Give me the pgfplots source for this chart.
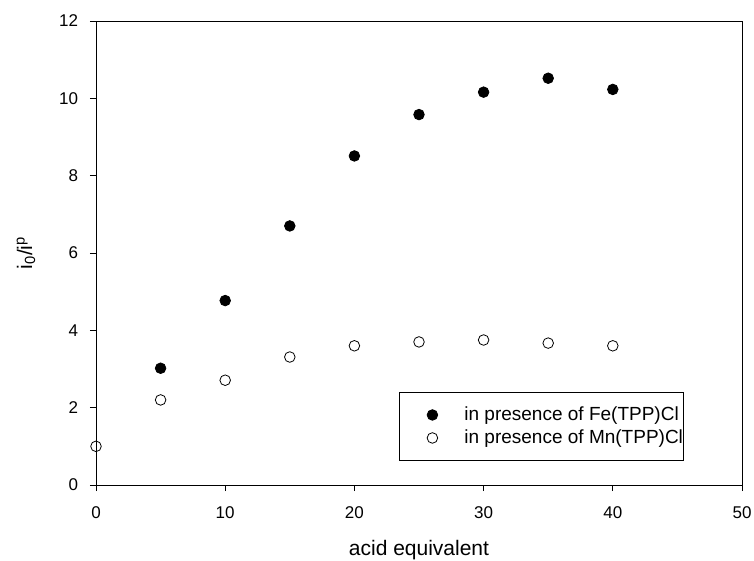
\documentclass[border=0pt]{standalone}
\usepackage{fontspec}
\setmainfont{Liberation Sans}
\usepackage{pgfplots}
\pgfplotsset{compat=1.18}
\begin{document}
\fontsize{17pt}{20pt}\selectfont
\begin{tikzpicture}
\begin{axis}[
  name=a,
  scale only axis,
  width=646pt, height=464pt,
  xmin=0, xmax=50, ymin=0, ymax=12,
  xtick={0,10,...,50}, ytick={0,2,...,12},
  xtick pos=bottom, ytick pos=left,
  tick align=outside, major tick length=6pt,
  tick style={black, line width=0.9pt},
  axis line style={line width=0.9pt},
  /pgf/number format/assume math mode=true,
  ticklabel style={font=\fontsize{17pt}{20pt}\selectfont},
  xticklabel style={yshift=-10pt},
  yticklabel style={xshift=-6pt},
  xlabel={acid equivalent},
  ylabel={i\textsubscript{0}/i\textsuperscript{p}},
  every axis x label/.style={at={(axis description cs:0.5,0)}, anchor=base, yshift=-70pt,
     font=\fontsize{21pt}{24pt}\selectfont},
  every axis y label/.style={at={(axis description cs:-0.1084,0.5)}, anchor=center, rotate=90,
     font=\fontsize{21pt}{24pt}\selectfont},
  legend style={at={(0.469,0.2004)}, anchor=north west, draw=black, line width=0.9pt,
     font=\fontsize{19pt}{21pt}\selectfont, inner xsep=0pt, inner ysep=13pt,
     nodes={inner sep=0pt, text height=15pt, text depth=4pt}, row sep=4pt},
  legend image code/.code={\path[draw=none, fill=none] (0pt,0pt) (65pt,0pt);
     \draw[#1] plot coordinates {(33pt,0pt)};},
  legend cell align=left,
  clip=false,
]
\addplot[only marks, mark=*, mark size=5.3pt, mark options={fill=black, draw=black, line width=0.8pt}]
  coordinates {(5,3.02) (10,4.77) (15,6.70) (20,8.51) (25,9.58) (30,10.16) (35,10.52) (40,10.23)};
\addlegendentry{in presence of Fe(TPP)Cl}
\addplot[only marks, mark=o, mark size=5.3pt, mark options={fill=white, draw=black, line width=0.8pt}]
  coordinates {(0,1.0) (5,2.20) (10,2.71) (15,3.31) (20,3.60) (25,3.70) (30,3.75) (35,3.67) (40,3.60)};
\addlegendentry{in presence of Mn(TPP)Cl\hspace{22pt}}
\end{axis}
\pgfresetboundingbox
\path ([shift={(-96pt,-75pt)}]a.south west) rectangle ([shift={(12pt,21pt)}]a.north east);
\end{tikzpicture}
\end{document}
